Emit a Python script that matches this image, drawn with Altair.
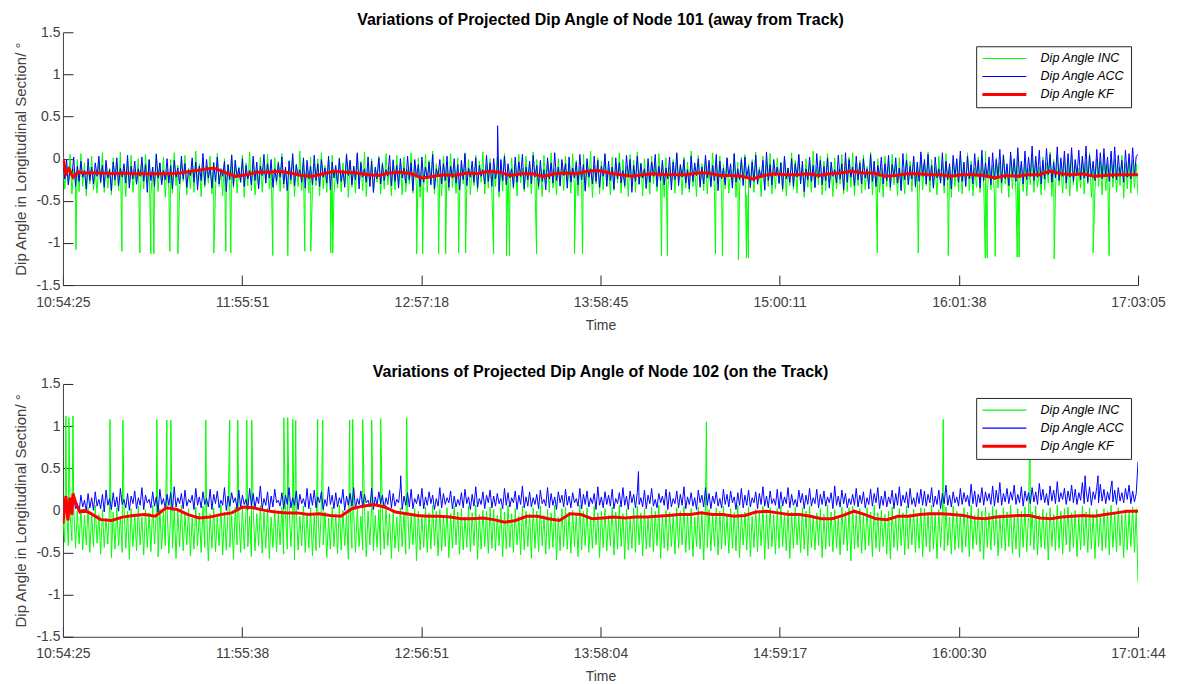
import altair as alt
import numpy as np
import pandas as pd

FONT = "Liberation Sans"
SERIES = ["Dip Angle INC", "Dip Angle ACC", "Dip Angle KF"]
COLORS = ["#00ff00", "#0000ff", "#ff0000"]
Y_TICKS = [-1.5, -1, -0.5, 0, 0.5, 1, 1.5]

# ---------------- Node 101 (away from track) ----------------
x_ticks_101 = ["10:54:25", "11:55:51", "12:57:18", "13:58:45", "15:00:11", "16:01:38", "17:03:05"]

inc_101 = [
    .02, -.36, -.08, -.31, .05, -.42, -.12, -.28, -.01, -.39, .06, -.33, -.05, -.44, -.1, -.3, .03, -.37, -.14, -.41,
    -.02, -.29, .07, -.4, -.06, -.35, -.11, -.43, .01, -.32, -.04, -.38, .08, -.27, -.09, -.45, -.03, -.34, .04, -.4,
    -.13, -.31, .0, -.42, -.07, -.36, .05, -.29, -.02, -.44, -.1, -.33, .06, -.39, -.05, -.3, .02, -.46, -.12, -.35,
    -.01, -.41, .07, -.32, -.08, -.38, -.03, -.27, .04, -.43, -.11, -.36, -.02, -.4, .09, -.31, -.06, -.45, .01, -.34,
    -.09, -.29, .03, -.42, -.04, -.37, .06, -.33, -.12, -.44, .0, -.3, -.07, -.39, .05, -.35, -.02, -.41, -.1, -.28,
    .04, -.46, -.05, -.32, .08, -.38, -.01, -.43, -.13, -.34, .02, -.4, -.06, -.29, .05, -.36, -.09, -.44, .01, -.31,
    -.03, -.39, .06, -.35, -.11, -.42, -.02, -.3, .03, -.45, -.07, -.33, .09, -.38, -.04, -.28, -.1, -.41, .02, -.37,
    -.06, -.32, .0, -.44, .07, -.36, -.08, -.4, -.01, -.29, .04, -.43, -.12, -.35, .01, -.39, -.05, -.31, .06, -.46,
    -.02, -.34, -.09, -.41, .05, -.3, -.03, -.38, .08, -.45, -.07, -.33, .0, -.4, -.11, -.28, .03, -.42, -.04, -.36,
    .06, -.31, -.1, -.44, -.01, -.37, .04, -.32, -.06, -.43, .02, -.39, -.13, -.3, .07, -.41, -.03, -.35, .01, -.46,
    -.08, -.33, .05, -.4, -.02, -.29, .09, -.42, -.06, -.36, -.11, -.44, .03, -.31, -.04, -.38, .06, -.34, -.09, -.41,
    .01, -.45, -.05, -.3, .07, -.37, -.01, -.43, -.1, -.32, .04, -.39, -.03, -.28, .08, -.42, -.07, -.35, .0, -.4,
    -.12, -.33, .02, -.46, -.04, -.38, .06, -.31, -.08, -.41, .01, -.36, -.02, -.44, .05, -.29, -.11, -.39, .03, -.34,
    -.06, -.42, .08, -.32, -.01, -.37, -.09, -.45, .04, -.3, -.03, -.4, .07, -.35, -.12, -.43, .0, -.33, -.05, -.38,
    .03, -.29, -.07, -.41, .06, -.36, -.02, -.44, -.1, -.31, .05, -.39, -.04, -.34, .09, -.46, -.08, -.3, .01, -.42,
    -.03, -.37, .04, -.32, -.11, -.43, .02, -.38, -.06, -.29, .07, -.41, -.01, -.35, -.09, -.45, .05, -.33, -.02, -.4,
    .08, -.31, -.05, -.44, .0, -.36, -.12, -.42, .03, -.3, -.07, -.39, .06, -.34, -.03, -.46, .01, -.37, -.1, -.32,
    -.01, -.41, .05, -.28, -.08, -.43, .02, -.35, -.04, -.4, .09, -.33, -.11, -.45, .04, -.31, -.06, -.38, .0, -.42,
    -.09, -.34, .07, -.39, -.02, -.3, .03, -.44, -.07, -.36, .01, -.41, -.13, -.32, .06, -.46, -.04, -.37, .02, -.29,
    .05, -.43, -.06, -.35, -.01, -.4, .08, -.31, -.1, -.45, .03, -.38, -.03, -.33, .06, -.42, -.08, -.36, .01, -.3,
    -.04, -.39, .02, -.44, -.11, -.32, .07, -.37, -.02, -.41, .04, -.29, -.07, -.46, .0, -.34, -.05, -.4, .09, -.35,
    -.1, -.31, .03, -.43, -.03, -.38, .06, -.33, -.08, -.45, .01, -.36, -.12, -.3, .05, -.42, -.01, -.39, .02, -.34,
    .07, -.44, -.06, -.32, -.02, -.41, .04, -.37, -.09, -.29, .08, -.43, -.04, -.35, .0, -.4, -.11, -.46, .03, -.33,
    -.02, -.38, .05, -.31, -.07, -.44, .01, -.36, -.13, -.42, .06, -.3, -.03, -.39, .02, -.34, -.08, -.45, .04, -.37,
    -.05, -.32, .08, -.4, -.01, -.35, -.1, -.43, .03, -.29, -.04, -.41, .06, -.36, -.09, -.46, .0, -.33, -.02, -.39,
    .04, -.42, -.06, -.31, .07, -.38, -.03, -.44, -.11, -.34, .02, -.4, -.05, -.3, .09, -.45, -.01, -.37, -.08, -.43,
    .01, -.35, -.04, -.41, .05, -.3, -.09, -.46, .03, -.36, -.02, -.42, .07, -.33, -.07, -.39, .0, -.44, -.12, -.31,
    .06, -.4, -.03, -.34, -.1, -.43, .02, -.37, -.05, -.29, .08, -.45, -.01, -.38, .04, -.32, -.08, -.41, .01, -.36,
    -.06, -.44, .05, -.31, -.02, -.39, -.11, -.35, .03, -.42, -.04, -.3, .07, -.46, -.08, -.37, .0, -.33, -.03, -.43,
    .02, -.38, -.07, -.45, .06, -.34, -.01, -.4, -.1, -.32, .04, -.47, -.05, -.36, .01, -.41, -.02, -.35, -.06, -.44,
]
inc_101_spike_t = [267, 1213, 1583, 1809, 1871, 2200, 2364, 3104, 3351, 3454,
                   4317, 4626, 4975, 5099, 5510, 5551, 7278, 7401, 7730, 7874,
                   8141, 8285, 8861, 9128, 9190, 9745, 10526, 10690, 12315, 12438,
                   13425, 13569, 13898, 14063, 14104, 16756, 17598, 18216, 18977, 19018,
                   19182, 19634, 19675, 20395, 21197, 21526]
inc_101_spike_v = [-1.08, -1.1, -1.12, -1.13, -1.13, -1.1, -1.13, -1.12, -1.1, -1.12,
                   -1.15, -1.15, -1.1, -1.1, -1.12, -1.12, -1.13, -1.13, -1.13, -1.13,
                   -1.12, -1.12, -1.13, -1.15, -1.15, -1.13, -1.13, -1.13, -1.15, -1.15,
                   -1.13, -1.15, -1.2, -1.18, -1.18, -1.12, -1.12, -1.15, -1.18, -1.18,
                   -1.16, -1.17, -1.17, -1.19, -1.12, -1.15]

acc_101 = [
    -.06, -.24, -.01, -.31, -.12, -.2, .02, -.33, -.09, -.27, -.03, -.22, -.14, -.36, .0, -.26, -.1, -.3, -.05, -.21,
    .03, -.28, -.08, -.34, -.02, -.23, -.13, -.38, -.04, -.25, .01, -.32, -.11, -.22, -.06, -.29, .04, -.35, -.09, -.24,
    -.03, -.3, -.12, -.21, .02, -.27, -.07, -.4, -.01, -.26, -.1, -.33, .05, -.23, -.05, -.31, -.14, -.25, .0, -.29,
    -.08, -.36, -.02, -.22, -.11, -.3, .03, -.24, -.06, -.34, -.13, -.2, .01, -.28, -.04, -.37, -.09, -.26, .06, -.31,
    -.01, -.23, -.1, -.35, -.05, -.27, .02, -.3, -.12, -.21, -.03, -.39, -.07, -.25, .04, -.32, -.02, -.22, -.11, -.28,
    .0, -.33, -.08, -.24, -.14, -.31, .03, -.26, -.04, -.36, -.09, -.2, .05, -.29, -.06, -.23, -.01, -.34, -.12, -.27,
    -.05, -.22, .02, -.3, -.1, -.38, -.03, -.25, .06, -.32, -.07, -.21, -.13, -.28, .01, -.35, -.02, -.24, -.09, -.31,
    .04, -.26, -.06, -.33, -.01, -.22, -.11, -.29, .03, -.37, -.04, -.23, -.08, -.3, .0, -.27, -.14, -.34, .05, -.2,
    -.02, -.31, -.09, -.25, .07, -.36, -.05, -.22, -.12, -.28, .02, -.33, -.03, -.4, -.1, -.24, .01, -.3, -.06, -.26,
    -.13, -.21, .04, -.32, -.02, -.27, -.08, -.35, .0, -.23, -.11, -.29, .03, -.25, -.05, -.38, -.01, -.22, -.07, -.33,
    .02, -.28, -.1, -.24, -.04, -.31, .05, -.36, -.12, -.2, -.01, -.3, -.06, -.26, .03, -.34, -.09, -.23, .0, -.29,
    -.07, -.37, -.02, -.25, .06, -.32, -.11, -.22, -.03, -.28, .01, -.35, -.08, -.21, -.13, -.3, .04, -.27, -.05, -.33,
    .0, -.24, -.09, -.39, -.01, -.26, .03, -.31, -.06, -.23, -.12, -.34, .02, -.28, -.04, -.21, .05, -.36, -.1, -.25,
    -.03, -.3, .04, -.22, -.08, -.33, -.02, -.27, -.13, -.37, .01, -.24, -.05, -.29, .07, -.26, -.1, -.32, -.01, -.2,
    -.06, -.35, .02, -.28, -.11, -.23, -.04, -.31, .05, -.25, -.07, -.38, .0, -.22, -.12, -.3, .03, -.27, -.02, -.34,
    -.09, -.21, .06, -.33, -.03, -.26, -.1, -.36, .01, -.24, -.05, -.29, -.14, -.32, .04, -.22, -.01, -.4, -.08, -.27,
    .03, -.3, -.06, -.23, -.12, -.35, .0, -.28, -.04, -.21, .05, -.33, -.09, -.26, -.02, -.31, -.11, -.24, .02, -.37,
    -.04, -.25, .07, -.32, -.07, -.22, -.01, -.29, -.13, -.36, .03, -.27, -.05, -.2, .0, -.34, -.1, -.3, .04, -.23,
    -.02, -.33, -.08, -.26, .05, -.38, -.03, -.24, -.11, -.31, .01, -.21, -.06, -.35, .06, -.28, -.12, -.25, -.01, -.32,
    .02, -.22, -.09, -.34, -.04, -.27, .04, -.3, -.13, -.23, -.02, -.37, .08, -.26, -.07, -.31, -.01, -.2, -.1, -.29,
    -.05, -.36, .03, -.24, -.11, -.28, .0, -.33, -.06, -.22, .05, -.3, -.03, -.39, -.12, -.25, .02, -.27, -.08, -.34,
    .06, -.23, -.02, -.31, -.09, -.26, .01, -.35, -.04, -.21, -.13, -.29, .04, -.24, -.06, -.37, .07, -.28, -.01, -.22,
    -.1, -.32, .03, -.25, -.05, -.3, .0, -.23, -.12, -.36, .05, -.27, -.03, -.33, -.08, -.21, .02, -.3, -.06, -.26,
    .04, -.34, -.07, -.22, .01, -.29, -.11, -.38, .06, -.25, -.02, -.31, -.09, -.24, .03, -.33, -.04, -.27, .08, -.21,
    -.01, -.3, .05, -.26, -.08, -.35, .02, -.23, -.12, -.29, .07, -.32, -.03, -.25, -.06, -.36, .04, -.22, .0, -.28,
    .09, -.27, -.04, -.33, .03, -.24, -.07, -.3, .06, -.21, -.02, -.35, .1, -.26, -.05, -.23, .02, -.31, .07, -.25,
    -.01, -.22, .11, -.29, .04, -.24, -.06, -.32, .08, -.2, .0, -.27, .13, -.23, -.03, -.3, .09, -.25, .02, -.21,
    .15, -.26, .03, -.22, .1, -.3, -.02, -.24, .12, -.19, .05, -.28, -.04, -.23, .14, -.26, .01, -.21, .09, -.29,
    .06, -.22, .13, -.27, -.01, -.2, .1, -.25, .03, -.23, .15, -.28, .04, -.21, -.03, -.26, .11, -.22, .07, -.24,
    .12, -.2, .02, -.27, .09, -.23, .14, -.25, .04, -.21, -.02, -.28, .1, -.22, .06, -.24, .13, -.2, .03, .05,
]
acc_101_spike_t = [8943]
acc_101_spike_v = [0.39]

kf_101_start_t = [0, 62, 123, 206, 308, 452]
kf_101_start_v = [0.0, -0.18, -0.12, -0.22, -0.16, -0.17]
kf_101_grid_t0 = 600
kf_101 = [
    -0.17, -0.17, -0.18, -0.17, -0.18, -0.18, -0.18, -0.18, -0.17, -0.15,
    -0.13, -0.11, -0.16, -0.21, -0.19, -0.16, -0.16, -0.15, -0.17, -0.2,
    -0.21, -0.18, -0.15, -0.16, -0.17, -0.19,
    -0.2, -0.17, -0.16, -0.18, -0.23, -0.21, -0.19, -0.2, -0.17, -0.18,
    -0.15, -0.16, -0.2, -0.18, -0.18, -0.21, -0.18, -0.17, -0.18, -0.15,
    -0.14, -0.17, -0.19, -0.21, -0.19, -0.18, -0.19, -0.19, -0.19, -0.17,
    -0.17, -0.2, -0.2, -0.21, -0.24, -0.2, -0.18, -0.19,
    -0.19, -0.18, -0.2, -0.18, -0.17, -0.15, -0.17, -0.17, -0.21, -0.2,
    -0.18, -0.18, -0.19, -0.19, -0.21, -0.19, -0.19, -0.2, -0.23, -0.2,
    -0.21, -0.19, -0.19, -0.15, -0.18, -0.19, -0.18, -0.21, -0.2, -0.19,
    -0.19, -0.19,
]

# ---------------- Node 102 (on the track) ----------------
x_ticks_102 = ["10:54:25", "11:55:38", "12:56:51", "13:58:04", "14:59:17", "16:00:30", "17:01:44"]

inc_102 = [
    -.08, -.38, .03, -.42, -.04, -.36, .05, -.45, -.01, -.4, .02, -.47, -.06, -.41, .04, -.5, -.03, -.43, .06, -.39,
    -.05, -.52, .01, -.44, -.09, -.4, .05, -.56, -.02, -.46, .03, -.42, -.07, -.5, .06, -.45, -.01, -.58, .02, -.43,
    -.04, -.48, .05, -.41, -.08, -.53, .01, -.44, -.03, -.49, .06, -.4, -.06, -.55, .02, -.46, -.02, -.42, .04, -.51,
    -.07, -.45, .03, -.57, -.01, -.43, .06, -.48, -.05, -.41, .02, -.54, -.09, -.46, .04, -.42, -.03, -.5, .05, -.44,
    .0, -.6, -.04, -.45, .03, -.49, -.08, -.42, .06, -.53, -.02, -.47, .01, -.44, -.06, -.58, .04, -.41, -.03, -.5,
    .05, -.46, -.01, -.43, -.07, -.55, .02, -.48, -.04, -.42, .06, -.51, -.02, -.45, .03, -.57, -.08, -.44, .01, -.49,
    -.03, -.41, .04, -.52, -.05, -.46, .06, -.43, -.01, -.59, .02, -.47, -.07, -.42, .05, -.5, -.03, -.45, .03, -.54,
    -.06, -.48, .01, -.44, .05, -.41, -.02, -.56, -.09, -.46, .04, -.43, -.04, -.51, .06, -.47, .0, -.42, -.05, -.58,
    .03, -.45, -.03, -.5, .02, -.43, -.07, -.47, .05, -.55, -.01, -.41, .04, -.48, -.06, -.44, .01, -.53, -.02, -.46,
    .06, -.42, -.04, -.57, .0, -.45, -.08, -.49, .03, -.43, -.02, -.52, .05, -.46, -.05, -.41, .02, -.6, -.01, -.47,
    -.07, -.44, .04, -.5, -.03, -.46, .06, -.42, -.01, -.54, .01, -.48, -.06, -.43, .03, -.56, -.04, -.45, .05, -.41,
    -.02, -.52, .02, -.47, -.08, -.44, .05, -.49, -.03, -.42, .06, -.58, -.05, -.46, .0, -.43, -.01, -.51, .04, -.45,
    .01, -.48, -.06, -.42, .03, -.55, -.02, -.46, .06, -.44, -.04, -.5, .02, -.41, -.07, -.53, .05, -.47, -.01, -.43,
    -.04, -.57, .03, -.45, -.01, -.49, .05, -.42, -.06, -.52, .01, -.46, -.03, -.44, .06, -.59, -.08, -.48, .02, -.43,
    .04, -.46, -.02, -.51, .0, -.43, -.05, -.55, .06, -.47, -.01, -.42, .03, -.5, -.07, -.45, .05, -.41, -.03, -.56,
    -.01, -.44, .02, -.48, -.06, -.42, .04, -.53, -.02, -.46, .06, -.43, -.04, -.58, .01, -.47, -.09, -.45, .03, -.5,
    .05, -.41, -.03, -.54, .02, -.46, -.07, -.44, .04, -.49, -.01, -.42, .06, -.57, -.05, -.45, .0, -.48, -.02, -.43,
    -.06, -.52, .03, -.45, -.01, -.41, .05, -.5, -.04, -.47, .02, -.55, -.08, -.43, .04, -.46, -.02, -.59, .06, -.44,
    .01, -.48, -.05, -.43, .03, -.53, -.01, -.46, .05, -.42, -.06, -.51, .02, -.45, -.03, -.48, .06, -.56, -.04, -.41,
    -.02, -.47, .04, -.55, -.07, -.44, .01, -.49, -.03, -.42, .05, -.58, -.01, -.46, .03, -.43, -.05, -.52, .02, -.45,
    .06, -.43, -.04, -.48, .0, -.57, -.02, -.45, .04, -.41, -.06, -.5, .03, -.46, -.01, -.54, .05, -.44, -.08, -.47,
    -.03, -.42, .02, -.56, -.05, -.46, .06, -.43, -.02, -.49, .01, -.45, -.07, -.53, .04, -.41, -.01, -.48, .03, -.6,
    .05, -.46, -.04, -.44, .02, -.51, -.06, -.47, .03, -.42, -.02, -.55, .06, -.45, -.03, -.49, .0, -.43, -.05, -.52,
    -.01, -.58, .04, -.44, -.07, -.48, .02, -.42, -.03, -.53, .05, -.46, -.04, -.41, .01, -.5, -.06, -.45, .03, -.55,
    .02, -.43, -.02, -.49, .06, -.46, -.05, -.57, .01, -.44, -.03, -.48, .04, -.42, -.08, -.52, .05, -.47, -.01, -.45,
    -.04, -.5, .03, -.43, -.02, -.55, .06, -.46, -.06, -.41, .02, -.49, -.01, -.58, .04, -.44, -.03, -.47, .05, -.42,
    .01, -.54, -.05, -.45, .03, -.48, -.02, -.43, .06, -.51, -.07, -.46, .02, -.56, -.01, -.44, .04, -.49, -.04, -.42,
    -.02, -.47, .05, -.53, -.06, -.44, .01, -.46, -.03, -.59, .03, -.43, -.05, -.48, .06, -.45, -.01, -.52, .02, -.41,
    .04, -.49, -.03, -.44, .0, -.55, -.07, -.47, .05, -.42, -.02, -.5, .03, -.46, -.04, -.57, .01, -.43, -.06, -.48,
    .02, -.45, -.01, -.53, .06, -.44, -.04, -.49, .03, -.42, -.05, -.56, .01, -.47, -.02, -.43, .04, -.5, .02, -.85,
]
inc_102_spike_t = [61, 123, 205, 963, 1229, 1925, 2130, 2212, 2929, 3420,
                   3584, 3769, 3871, 4527, 4608, 4711, 4772, 5223, 5325, 5878,
                   5940, 6145, 6329, 6513, 7046, 13190, 18045, 19826]
inc_102_spike_v = [1.12, 1.1, 1.12, 1.08, 1.07, 1.08, 1.07, 1.07, 1.07, 1.07,
                   1.07, 1.07, 1.07, 1.1, 1.1, 1.08, 1.07, 1.08, 1.07, 1.07,
                   1.08, 1.08, 1.07, 1.09, 1.1, 1.05, 1.08, 1.07]

acc_102 = [
    .03, -.03, .14, .01, .1, -.05, .16, .02, .08, -.02, .18, .04, .12, -.01, .2, .03, .15, .0, .22, .05,
    .13, .02, .19, -.02, .24, .06, .14, .01, .21, .04, .16, -.01, .26, .07, .13, .03, .2, .0, .17, .08,
    .23, .02, .15, .06, .27, .01, .18, .09, .13, .03, .22, .05, .16, -.02, .25, .07, .14, .02, .19, .06,
    .21, .0, .28, .04, .15, .08, .2, .02, .24, .05, .13, .09, .18, .01, .26, .06, .16, .03, .22, .07,
    .14, .04, .25, .01, .19, .08, .23, .03, .12, .06, .27, .0, .17, .05, .21, .09, .15, .02, .24, .04,
    .18, .07, .13, .01, .26, .05, .2, .03, .16, .08, .29, .02, .14, .06, .22, .0, .17, .04, .25, .09,
    .12, .05, .21, .02, .18, .07, .27, .03, .15, .06, .23, .01, .19, .08, .14, .04, .26, .02, .2, .06,
    .24, .03, .16, .09, .22, .01, .13, .05, .28, .07, .18, .02, .21, .04, .15, .08, .25, .0, .17, .06,
    .2, .05, .27, .02, .14, .07, .23, .03, .19, .09, .12, .04, .26, .01, .16, .06, .22, .08, .18, .02,
    .15, .07, .24, .03, .2, .05, .13, .09, .28, .01, .17, .06, .21, .04, .25, .02, .14, .08, .19, .05,
    .26, .02, .16, .06, .22, .08, .18, .01, .14, .05, .27, .03, .2, .07, .15, .09, .23, .02, .17, .04,
    .13, .06, .21, .03, .25, .08, .16, .01, .19, .05, .28, .04, .14, .07, .22, .02, .18, .09, .24, .03,
    .17, .05, .2, .08, .14, .02, .26, .06, .21, .04, .15, .09, .23, .01, .18, .07, .29, .03, .16, .05,
    .22, .04, .15, .07, .19, .02, .24, .08, .13, .05, .27, .03, .2, .06, .16, .01, .22, .09, .18, .04,
    .25, .06, .17, .03, .21, .09, .14, .05, .26, .02, .19, .07, .23, .04, .15, .08, .2, .01, .28, .06,
    .16, .03, .22, .07, .18, .05, .25, .02, .14, .08, .21, .04, .27, .06, .17, .01, .23, .09, .19, .03,
    .21, .07, .15, .04, .24, .02, .18, .08, .26, .05, .13, .03, .2, .09, .17, .06, .25, .01, .22, .04,
    .14, .08, .23, .03, .19, .06, .28, .02, .16, .07, .21, .05, .15, .01, .24, .09, .18, .04, .27, .06,
    .2, .02, .17, .08, .22, .05, .14, .03, .25, .07, .19, .04, .23, .09, .16, .01, .21, .06, .26, .03,
    .18, .06, .24, .04, .15, .09, .22, .02, .2, .07, .28, .05, .17, .03, .23, .08, .14, .06, .25, .02,
    .22, .05, .16, .08, .27, .03, .19, .06, .13, .04, .24, .09, .2, .02, .18, .07, .26, .05, .15, .08,
    .25, .03, .19, .07, .23, .05, .16, .09, .21, .02, .29, .06, .17, .04, .24, .08, .2, .03, .14, .07,
    .19, .06, .26, .04, .18, .08, .22, .03, .15, .07, .25, .05, .2, .09, .27, .02, .17, .06, .23, .04,
    .16, .08, .24, .02, .2, .06, .28, .05, .18, .09, .22, .03, .26, .07, .15, .04, .21, .08, .25, .06,
    .23, .05, .19, .09, .27, .04, .17, .07, .24, .02, .2, .08, .3, .06, .18, .04, .22, .09, .16, .05,
    .26, .07, .21, .1, .18, .05, .31, .08, .23, .04, .19, .09, .27, .06, .22, .11, .2, .07, .29, .05,
    .24, .09, .33, .06, .2, .1, .26, .08, .22, .12, .3, .07, .19, .09, .28, .05, .23, .11, .21, .08,
    .27, .1, .22, .07, .32, .12, .25, .09, .2, .06, .29, .11, .24, .08, .34, .1, .21, .13, .26, .07,
    .23, .11, .3, .09, .25, .07, .21, .12, .33, .08, .24, .1, .28, .06, .22, .13, .27, .09, .31, .11,
    .25, .08, .22, .12, .29, .1, .24, .07, .27, .11, .21, .09, .26, .13, .3, .08, .23, .1, .2, .58,
]
acc_102_spike_t = [6923, 11798, 20953, 21219, 21506]
acc_102_spike_v = [0.41, 0.46, 0.41, 0.41, 0.35]

kf_102_start_t = [0, 61, 102, 143, 184, 205, 246, 287, 348, 430]
kf_102_start_v = [-0.16, 0.17, -0.12, 0.15, -0.05, 0.2, 0.12, 0.05, -0.02, 0.0]
kf_102_grid_t0 = 550
kf_102 = [
    -0.03, -0.11, -0.12, -0.08, -0.06, -0.05, -0.07, 0.03, 0.01, -0.05,
    -0.09, -0.08, -0.05, -0.03, 0.04, 0.03, 0.0, -0.02, -0.03, -0.03,
    -0.05, -0.04, -0.06, -0.07, 0.02, 0.05, 0.07,
    0.04, -0.02, -0.04, -0.06, -0.07, -0.07, -0.08, -0.1, -0.1, -0.09,
    -0.11, -0.14, -0.12, -0.07, -0.07, -0.1, -0.12, -0.04, -0.05, -0.1,
    -0.09, -0.08, -0.09, -0.08, -0.08, -0.07, -0.06, -0.05, -0.05, -0.03,
    -0.05, -0.05, -0.07, -0.06, -0.02, -0.01,
    -0.03, -0.05, -0.05, -0.07, -0.1, -0.1, -0.06, -0.01, -0.05, -0.1,
    -0.11, -0.07, -0.07, -0.05, -0.04, -0.04, -0.05, -0.06, -0.09, -0.1,
    -0.08, -0.07, -0.06, -0.06, -0.09, -0.1, -0.08, -0.07, -0.06, -0.07,
    -0.05, -0.03, -0.01, -0.01,
]


def secs(s):
    h, m, c = (int(p) for p in s.split(":"))
    return h * 3600 + m * 60 + c


def frame(name, t, v, t0):
    return pd.DataFrame({"t": np.asarray(t, dtype=float) + t0, "v": v, "series": name})


def panel(ticks, inc, inc_st, inc_sv, acc, acc_st, acc_sv,
          kf_st, kf_sv, kf_t0, kf, title, legend_xy):
    t0 = secs(ticks[0])
    total = secs(ticks[-1]) - t0
    x_vals = [secs(s) for s in ticks]

    def grid(vals, start=0):
        return list(np.linspace(start, total, len(vals)))

    df = pd.concat([
        frame(SERIES[0], grid(inc) + inc_st, inc + inc_sv, t0),
        frame(SERIES[1], grid(acc) + acc_st, acc + acc_sv, t0),
        frame(SERIES[2], kf_st + grid(kf, kf_t0), kf_sv + kf, t0),
    ], ignore_index=True)

    xs = alt.Scale(domain=[x_vals[0], x_vals[-1]], nice=False, zero=False)
    ys = alt.Scale(domain=[-1.5, 1.5], nice=False, zero=False)

    x_axis = alt.Axis(values=x_vals, labelExpr="utcFormat(datum.value * 1000, '%H:%M:%S')",
                      title="Time", ticks=False, tickSize=0, labelFlush=False, labelOverlap=False,
                      labelPadding=10, labelFontSize=14, labelColor="#404040",
                      titleFontSize=14, titleColor="#404040", titleFontWeight="normal",
                      titlePadding=9, domainColor="#404040", grid=False)
    y_axis = alt.Axis(values=Y_TICKS, labelExpr="'' + datum.value",
                      title="Dip Angle in Longitudinal Section/ °", ticks=False, tickSize=0,
                      labelFlush=False, labelPadding=3, labelFontSize=14, labelColor="#404040",
                      titleFontSize=15, titleColor="#404040", titleFontWeight="normal",
                      titlePadding=7, domainColor="#404040", grid=False)

    legend = alt.Legend(
        title=None, orient="none", legendX=legend_xy[0], legendY=legend_xy[1],
        symbolType="M-1,0H6.33", symbolSize=144,
        symbolStrokeWidth={"expr": "datum.value === 'Dip Angle KF' ? 3 : 1.2"},
        labelFont=FONT, labelFontSize=12.5, labelFontStyle="italic", labelColor="#000000",
        labelOffset=46, padding=6, rowPadding=5,
        fillColor="#ffffff", strokeColor="#262626",
    )
    color = alt.Color("series:N", scale=alt.Scale(domain=SERIES, range=COLORS), legend=legend)

    def line(name, sw):
        return alt.Chart(df).transform_filter(alt.datum.series == name).mark_line(
            clip=True
        ).encode(
            x=alt.X("t:Q", scale=xs, axis=x_axis),
            y=alt.Y("v:Q", scale=ys, axis=y_axis),
            color=color,
            strokeWidth=alt.value(sw),
        )

    main = alt.layer(line(SERIES[0], 1), line(SERIES[1], 1), line(SERIES[2], 3))

    tick_df = pd.DataFrame({"t": [x_vals[0]], "v": [0.0]})
    tick_layer = alt.Chart(tick_df).mark_point(opacity=0).encode(
        x=alt.X("t:Q", scale=xs, axis=alt.Axis(orient="bottom", offset=-10, tickSize=10, values=x_vals,
                                               labels=False, domain=False, grid=False, title=None,
                                               tickColor="#262626")),
        y=alt.Y("v:Q", scale=ys, axis=alt.Axis(orient="left", offset=-10, tickSize=10, values=Y_TICKS,
                                               labels=False, domain=False, grid=False, title=None,
                                               tickColor="#262626")),
    )

    return alt.layer(main, tick_layer).resolve_scale(x="independent", y="independent").resolve_axis(
        x="independent", y="independent"
    ).properties(
        width=1076, height=253,
        title=alt.TitleParams(title, font=FONT, fontSize=16, fontWeight="bold", color="#000000",
                              offset=-3, frame="group", anchor="middle"),
    )


p1 = panel(x_ticks_101, inc_101, inc_101_spike_t, inc_101_spike_v,
           acc_101, acc_101_spike_t, acc_101_spike_v,
           kf_101_start_t, kf_101_start_v, kf_101_grid_t0, kf_101,
           "Variations of Projected Dip Angle of Node 101 (away from Track)", (914, 14))
p2 = panel(x_ticks_102, inc_102, inc_102_spike_t, inc_102_spike_v,
           acc_102, acc_102_spike_t, acc_102_spike_v,
           kf_102_start_t, kf_102_start_v, kf_102_grid_t0, kf_102,
           "Variations of Projected Dip Angle of Node 102 (on the Track)", (914, 14))

chart = alt.vconcat(p1, p2, spacing=30).resolve_scale(color="independent").resolve_legend(
    color="independent"
).properties(
    padding={"left": 5, "top": 3, "right": 5, "bottom": 0}
).configure(font=FONT).configure_view(stroke="transparent")

chart.save("out.html", embed_options={"renderer": "svg", "actions": False})
